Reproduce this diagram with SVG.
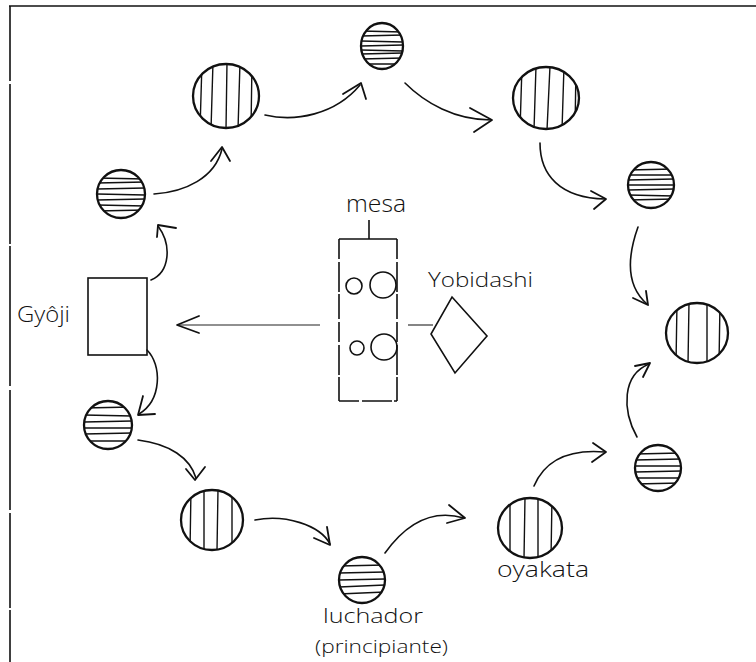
<svg xmlns="http://www.w3.org/2000/svg" width="756" height="662" viewBox="0 0 756 662">
  <style>
    .ring { fill: none; stroke: #111; stroke-width: 2.3; }
    .stripe { fill: none; stroke: #111; stroke-width: 1.4; stroke-linecap: round; }
    .edge { fill: none; stroke: #111; stroke-width: 1.6; stroke-linecap: round; stroke-linejoin: round; }
    .head { fill: none; stroke: #111; stroke-width: 1.8; stroke-linecap: round; stroke-linejoin: round; }
    .thin { fill: none; stroke: #222; stroke-width: 1.1; }
    .box { fill: none; stroke: #111; stroke-width: 1.6; }
    .hand { font-family: "Open Sans", "Liberation Sans", "DejaVu Sans", sans-serif; font-weight: 300; fill: #111; }
  </style>
  <defs>
    <clipPath id="clip-top"><ellipse cx="382" cy="46" rx="21" ry="23"/></clipPath>
    <clipPath id="clip-ul"><circle cx="121" cy="194" r="24"/></clipPath>
    <clipPath id="clip-l"><circle cx="108" cy="425" r="24"/></clipPath>
    <clipPath id="clip-lu"><circle cx="362" cy="580" r="23"/></clipPath>
    <clipPath id="clip-ru"><circle cx="651" cy="185" r="23"/></clipPath>
    <clipPath id="clip-rl"><circle cx="658" cy="468" r="23"/></clipPath>
    <clipPath id="clip-tl"><ellipse cx="226" cy="96" rx="33" ry="32"/></clipPath>
    <clipPath id="clip-tr"><ellipse cx="546" cy="98" rx="33" ry="31"/></clipPath>
    <clipPath id="clip-big"><ellipse cx="697" cy="333" rx="31" ry="30"/></clipPath>
    <clipPath id="clip-bl"><ellipse cx="212" cy="520" rx="31" ry="30"/></clipPath>
    <clipPath id="clip-oy"><ellipse cx="530" cy="528" rx="32" ry="30"/></clipPath>
  </defs>

  <!-- sheet border: top and left edges only -->
  <g id="border">
    <path class="box" d="M9,6 H756" stroke-width="2"/>
    <path class="box" d="M10,6 V662" stroke-dasharray="75 3 160 2 140 4 120 3 95 2 60"/>
  </g>

  <!-- connectors -->
  <g id="connectors">
    <!-- Gyoji to upper-left wrestler -->
    <path class="edge" d="M151,280 C170,272 172,245 158,226"/>
    <path class="head" d="M157,237 L158,225 L176,228"/>
    <!-- upper-left to top-left -->
    <path class="edge" d="M154,194 C185,192 215,178 222,149"/>
    <path class="head" d="M211,161 L222,147 L230,161"/>
    <!-- top-left to top -->
    <path class="edge" d="M265,115 C295,122 335,115 360,85"/>
    <path class="head" d="M343,94 L361,83 L366,99"/>
    <!-- top to top-right -->
    <path class="edge" d="M405,83 C425,103 455,120 491,120"/>
    <path class="head" d="M470,108 L492,120 L474,132"/>
    <!-- top-right to right-upper -->
    <path class="edge" d="M540,143 C540,175 560,198 605,199"/>
    <path class="head" d="M591,191 L606,199 L594,209"/>
    <!-- right-upper to big right -->
    <path class="edge" d="M638,227 C628,255 625,285 647,304"/>
    <path class="head" d="M633,298 L648,305 L646,291"/>
    <!-- right-lower to big right -->
    <path class="edge" d="M637,437 C622,410 622,375 649,364"/>
    <path class="head" d="M635,366 L650,363 L643,377"/>
    <!-- oyakata to right-lower -->
    <path class="edge" d="M534,486 C545,460 570,449 605,452"/>
    <path class="head" d="M593,443 L606,452 L592,462"/>
    <!-- luchador to oyakata -->
    <path class="edge" d="M385,553 C405,525 430,508 464,518"/>
    <path class="head" d="M449,505 L465,518 L447,523"/>
    <!-- bottom-left to luchador -->
    <path class="edge" d="M255,520 C285,514 320,525 330,544"/>
    <path class="head" d="M314,538 L330,545 L327,527"/>
    <!-- lower-left to bottom-left -->
    <path class="edge" d="M138,440 C170,444 190,458 196,478"/>
    <path class="head" d="M186,469 L195,480 L205,467"/>
    <!-- Gyoji to lower-left -->
    <path class="edge" d="M147,350 C162,365 162,400 139,414"/>
    <path class="head" d="M143,396 L138,415 L155,414"/>
    <!-- mesa to Gyoji -->
    <path class="thin" d="M320,325 H178"/>
    <path class="head" d="M199,316 L177,325 L199,333"/>
    <!-- mesa to Yobidashi -->
    <path class="thin" d="M408,325 H433"/>
  </g>

  <!-- wrestlers, horizontal stripes -->
  <g id="wrestler-top">
    <g clip-path="url(#clip-top)">
      <path class="stripe" d="M360,31 L404,32 M360,36 L404,35 M360,41 L404,42 M360,46 L404,45 M360,50 L404,51 M360,54 L404,53 M360,59 L404,58 M360,64 L404,64"/>
    </g>
    <ellipse class="ring" cx="382" cy="46" rx="21" ry="23"/>
  </g>
  <g id="wrestler-upper-left">
    <g clip-path="url(#clip-ul)">
      <path class="stripe" d="M96,178 L146,179 M96,183 L146,182 M96,189 L146,188 M96,194 L146,195 M96,200 L146,199 M96,205 L146,206 M96,211 L146,210"/>
    </g>
    <circle class="ring" cx="121" cy="194" r="24"/>
  </g>
  <g id="wrestler-lower-left">
    <g clip-path="url(#clip-l)">
      <path class="stripe" d="M83,408 L133,407 M83,415 L133,416 M83,422 L133,421 M83,428 L133,428 M83,434 L133,433 M83,441 L133,441"/>
    </g>
    <circle class="ring" cx="108" cy="425" r="24"/>
  </g>
  <g id="luchador">
    <g clip-path="url(#clip-lu)">
      <path class="stripe" d="M338,566 L386,565 M338,573 L386,572 M338,580 L386,579 M338,587 L386,585 M338,594 L386,592"/>
    </g>
    <circle class="ring" cx="362" cy="580" r="23"/>
  </g>
  <g id="wrestler-right-upper">
    <g clip-path="url(#clip-ru)">
      <path class="stripe" d="M627,170 L675,169 M627,175 L675,175 M627,180 L675,179 M627,185 L675,185 M627,190 L675,189 M627,195 L675,196 M627,200 L675,199"/>
    </g>
    <circle class="ring" cx="651" cy="185" r="23"/>
  </g>
  <g id="wrestler-right-lower">
    <g clip-path="url(#clip-rl)">
      <path class="stripe" d="M634,454 L682,453 M634,460 L682,459 M634,466 L682,466 M634,472 L682,471 M634,478 L682,478 M634,484 L682,483"/>
    </g>
    <circle class="ring" cx="658" cy="468" r="23"/>
  </g>

  <!-- wrestlers, vertical stripes -->
  <g id="wrestler-top-left">
    <g clip-path="url(#clip-tl)">
      <path class="stripe" d="M202,62 L200,130 M213,62 L211,130 M227,62 L226,130 M240,62 L238,130 M252,62 L251,130"/>
    </g>
    <ellipse class="ring" cx="226" cy="96" rx="33" ry="32"/>
  </g>
  <g id="wrestler-top-right">
    <g clip-path="url(#clip-tr)">
      <path class="stripe" d="M522,66 L520,130 M536,66 L534,130 M550,66 L547,130 M564,66 L562,130 M576,66 L575,130"/>
    </g>
    <ellipse class="ring" cx="546" cy="98" rx="33" ry="31"/>
  </g>
  <g id="wrestler-right">
    <g clip-path="url(#clip-big)">
      <path class="stripe" d="M677,302 L676,364 M689,302 L688,364 M707,302 L707,364 M720,302 L719,364"/>
    </g>
    <ellipse class="ring" cx="697" cy="333" rx="31" ry="30"/>
  </g>
  <g id="wrestler-bottom-left">
    <g clip-path="url(#clip-bl)">
      <path class="stripe" d="M191,489 L190,551 M204,489 L204,551 M218,489 L217,551 M232,489 L232,551"/>
    </g>
    <ellipse class="ring" cx="212" cy="520" rx="31" ry="30"/>
  </g>
  <g id="oyakata">
    <g clip-path="url(#clip-oy)">
      <path class="stripe" d="M510,497 L510,559 M525,497 L524,559 M538,497 L538,559 M552,497 L551,559"/>
    </g>
    <ellipse class="ring" cx="530" cy="528" rx="32" ry="30"/>
  </g>

  <!-- referee -->
  <g id="gyoji">
    <rect class="box" x="88" y="278" width="59" height="77"/>
  </g>

  <!-- judges' table -->
  <g id="mesa">
    <path class="box" d="M369,220 V239 M339,239 H397"/>
    <path class="box" d="M339,239 V401 M397,239 V401 M339,401 H397" stroke-dasharray="20 3 30 2 25 3"/>
    <circle class="box" cx="354" cy="286" r="8"/>
    <circle class="box" cx="383" cy="285" r="13"/>
    <circle class="box" cx="357" cy="348" r="7"/>
    <circle class="box" cx="384" cy="347" r="13"/>
  </g>

  <!-- Yobidashi -->
  <g id="yobidashi">
    <path class="box" d="M452,297 L487,336 L455,373 L431,334 Z"/>
  </g>

  <!-- labels -->
  <g id="labels">
    <text class="hand" x="346" y="212" font-size="23" textLength="60" lengthAdjust="spacingAndGlyphs">mesa</text>
    <text class="hand" x="428" y="287" font-size="20" textLength="105" lengthAdjust="spacingAndGlyphs">Yobidashi</text>
    <text class="hand" x="17" y="322" font-size="22" textLength="53" lengthAdjust="spacingAndGlyphs">Gyôji</text>
    <text class="hand" x="323" y="623" font-size="21" textLength="100" lengthAdjust="spacingAndGlyphs">luchador</text>
    <text class="hand" x="315" y="653" font-size="18" textLength="133" lengthAdjust="spacingAndGlyphs">(principiante)</text>
    <text class="hand" x="497" y="577" font-size="22" textLength="92" lengthAdjust="spacingAndGlyphs">oyakata</text>
  </g>
</svg>
